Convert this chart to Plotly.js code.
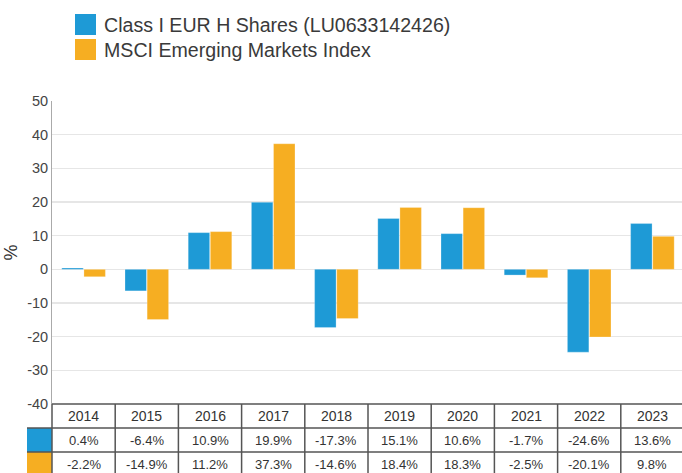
<!DOCTYPE html>
<html>
<head>
<meta charset="utf-8">
<script src="https://cdn.plot.ly/plotly-3.0.1.min.js"></script>
<style>
html,body{margin:0;padding:0;overflow:hidden;background:#fff;}
#chart{width:686px;height:473px;}
</style>
</head>
<body>
<div id="chart"></div>
<script>
const years = ['2014','2015','2016','2017','2018','2019','2020','2021','2022','2023'];
const fundName = 'Class I EUR H Shares (LU0633142426)';
const indexName = 'MSCI Emerging Markets Index';
const fundValues = [0.4, -6.4, 10.9, 19.9, -17.3, 15.1, 10.6, -1.7, -24.6, 13.6];
const indexValues = [-2.2, -14.9, 11.2, 37.3, -14.6, 18.4, 18.3, -2.5, -20.1, 9.8];
const yTicks = [50, 40, 30, 20, 10, 0, -10, -20, -30, -40];

const blue = '#1e9ad6';
const orange = '#f6ae22';
const W = 686, H = 473;
const M = {l: 52, r: 2, t: 101, b: 69};
const pw = W - M.l - M.r, ph = H - M.t - M.b;
const rowH = 24;
const n = years.length;
const tf = 'Liberation Sans, Arial, sans-serif';

const traces = [
  {type: 'bar', x: years, y: fundValues, name: fundName, marker: {color: blue, line: {color: 'rgba(255,255,255,0.5)', width: 0.5}}, hoverinfo: 'x+y'},
  {type: 'bar', x: years, y: indexValues, name: indexName, marker: {color: orange, line: {color: 'rgba(255,255,255,0.5)', width: 0.5}}, hoverinfo: 'x+y'}
];

const shapes = [];
const annotations = [];
const border = '#555';
const py = px => -px / ph;
const swL = -25 / pw;

[0, rowH, 2 * rowH, 3 * rowH].forEach((d, k) => {
  shapes.push({type: 'line', xref: 'paper', yref: 'paper', x0: k === 0 ? 0 : swL, x1: 1, y0: py(d), y1: py(d), line: {color: border, width: 1.5}});
});
for (let i = 0; i <= n; i++) {
  const xp = i / n;
  shapes.push({type: 'line', xref: 'paper', yref: 'paper', x0: xp, x1: xp, y0: 0, y1: py(3 * rowH), line: {color: border, width: 1.5}});
}
[[blue, 1], [orange, 2]].forEach(([c, r]) => {
  shapes.push({type: 'rect', xref: 'paper', yref: 'paper', x0: swL, x1: 0, y0: py(r * rowH), y1: py((r + 1) * rowH), fillcolor: c, line: {width: 0}, layer: 'below'});
});
years.forEach((yr, i) => {
  const xc = (i + 0.5) / n;
  annotations.push({xref: 'paper', yref: 'paper', x: xc, y: py(rowH * 0.5), text: yr, showarrow: false, font: {size: 14, color: '#333', family: tf}, xanchor: 'center', yanchor: 'middle'});
  annotations.push({xref: 'paper', yref: 'paper', x: xc, y: py(rowH * 1.5), text: fundValues[i].toFixed(1) + '%', showarrow: false, font: {size: 13, color: '#333', family: tf}, xanchor: 'center', yanchor: 'middle'});
  annotations.push({xref: 'paper', yref: 'paper', x: xc, y: py(rowH * 2.5), text: indexValues[i].toFixed(1) + '%', showarrow: false, font: {size: 13, color: '#333', family: tf}, xanchor: 'center', yanchor: 'middle'});
});

const legItems = [[blue, fundName, 14], [orange, indexName, 39]];
legItems.forEach(([c, name, top]) => {
  const x0 = (75 - M.l) / pw, x1 = (96 - M.l) / pw;
  const y0 = (H - M.b - top) / ph, y1 = (H - M.b - top - 21) / ph;
  shapes.push({type: 'rect', xref: 'paper', yref: 'paper', x0: x0, x1: x1, y0: y1, y1: y0, fillcolor: c, line: {width: 0}});
  annotations.push({xref: 'paper', yref: 'paper', x: (102 - M.l) / pw, y: (H - M.b - top - 11) / ph, text: name, showarrow: false, xanchor: 'left', yanchor: 'middle', font: {size: 19.6, color: '#3a3a3a', family: tf}});
});

const layout = {
  width: W, height: H,
  margin: M,
  paper_bgcolor: '#fff', plot_bgcolor: '#fff',
  showlegend: false,
  barmode: 'group',
  bargap: 0.3,
  bargroupgap: 0.03,
  xaxis: {type: 'category', showticklabels: false, showgrid: false, zeroline: false, showline: false, ticks: ''},
  yaxis: {
    range: [-40, 50], tickvals: yTicks, ticktext: yTicks.map(String),
    showgrid: true, gridcolor: '#e6e6e6', gridwidth: 1.5,
    zeroline: false, showline: true, linecolor: '#aaa', linewidth: 1,
    ticks: '', ticklen: 0,
    tickfont: {size: 14.5, color: '#444', family: tf},
    title: {text: '%', font: {size: 18, color: '#333', family: tf}, standoff: 4}
  },
  shapes: shapes,
  annotations: annotations
};

Plotly.newPlot('chart', traces, layout, {displayModeBar: false, staticPlot: true});
</script>
</body>
</html>
